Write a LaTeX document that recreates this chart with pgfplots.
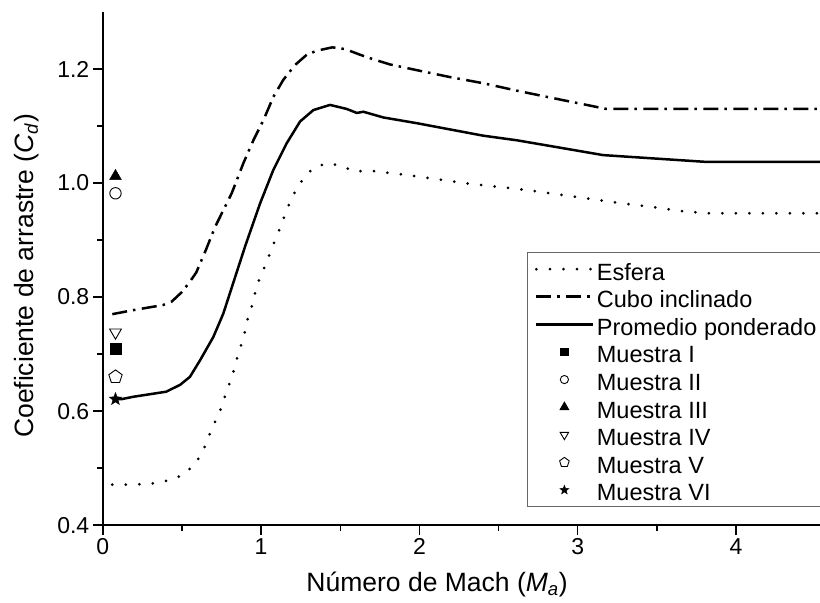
\documentclass[border=0pt]{standalone}
\usepackage{fontspec}
\setmainfont{Liberation Sans}
\usepackage{pgfplots}
\pgfplotsset{compat=1.18}
\usetikzlibrary{plotmarks,calc}

% filled five-pointed star
\pgfdeclareplotmark{fstar}{%
  \pgfpathmoveto{\pgfqpointpolar{90}{\pgfplotmarksize}}%
  \pgfpathlineto{\pgfqpointpolar{126}{0.42\pgfplotmarksize}}%
  \pgfpathlineto{\pgfqpointpolar{162}{\pgfplotmarksize}}%
  \pgfpathlineto{\pgfqpointpolar{198}{0.42\pgfplotmarksize}}%
  \pgfpathlineto{\pgfqpointpolar{234}{\pgfplotmarksize}}%
  \pgfpathlineto{\pgfqpointpolar{270}{0.42\pgfplotmarksize}}%
  \pgfpathlineto{\pgfqpointpolar{306}{\pgfplotmarksize}}%
  \pgfpathlineto{\pgfqpointpolar{342}{0.42\pgfplotmarksize}}%
  \pgfpathlineto{\pgfqpointpolar{18}{\pgfplotmarksize}}%
  \pgfpathlineto{\pgfqpointpolar{54}{0.42\pgfplotmarksize}}%
  \pgfpathclose
  \pgfusepathqfillstroke
}

\begin{document}
\begin{tikzpicture}
\begin{axis}[
    scale only axis,
    width=717pt, height=513pt,
    xmin=0, xmax=4.53,
    ymin=0.4, ymax=1.3,
    axis lines=left,
    axis line style={-, line width=1.4pt},
    xtick={0,1,2,3,4},
    ytick={0.4,0.6,0.8,1.0,1.2},
    minor x tick num=1,
    minor y tick num=1,
    tick align=outside,
    major tick length=10pt,
    minor tick length=5.5pt,
    every tick/.style={black, line width=1.4pt},
    /pgf/number format/assume math mode=true,
    yticklabel style={/pgf/number format/fixed, /pgf/number format/fixed zerofill, /pgf/number format/precision=1},
    tick label style={font=\fontsize{23}{27}\selectfont},
    label style={font=\fontsize{26.5}{31}\selectfont},
    xlabel={Número de Mach (\textit{M}\textsubscript{\textit{a}})},
    ylabel={Coeficiente de arrastre (\textit{C}\textsubscript{\textit{d}})},
    xlabel style={at={(rel axis cs:0.466,-0.130)}, anchor=base},
    ylabel style={at={(rel axis cs:-0.0973,0.4855)}, anchor=base},
    legend image code/.code={\draw[mark repeat=2,mark phase=2,#1,/tikz/every mark/.append style={scale=0.72}] plot coordinates {(0pt,0pt) (28pt,0pt) (57pt,0pt)};},
    legend style={
        at={(rel axis cs:0.592,0.532)}, anchor=north west,
        draw=gray!80!black, line width=1pt,
        font=\fontsize{23.5}{28}\selectfont,
        inner xsep=7pt, inner ysep=3.5pt,
        row sep=1.6pt,
        nodes={inner xsep=2pt, inner ysep=2pt, text height=22pt, text depth=0pt},
        cells={anchor=west},
    },
]

\addplot[black, line width=3pt, line cap=round, dash pattern=on 0pt off 13.5pt]
    coordinates {
    (0.06,0.471)(0.2,0.471)(0.35,0.474)(0.42,0.479)(0.51,0.488)(0.59,0.51)(0.64,0.535)(0.68,0.563)(0.72,0.588)(0.75,0.607)(0.78,0.633)(0.82,0.663)(0.84,0.686)(0.87,0.712)(0.90,0.742)(0.92,0.767)(0.95,0.791)(0.97,0.819)(1.0,0.838)(1.06,0.879)(1.094,0.904)(1.13,0.928)(1.162,0.953)(1.2,0.978)(1.252,1.002)(1.323,1.025)(1.414,1.035)(1.509,1.03)(1.59,1.02)(1.68,1.022)(1.77,1.019)(1.86,1.016)(1.95,1.013)(2.13,1.006)(2.31,0.999)(2.67,0.988)(2.93,0.978)(3.11,0.971)(3.29,0.964)(3.47,0.958)(3.65,0.951)(3.815,0.947)(4.53,0.947)
    };
    \addlegendentry{Esfera}

\addplot[black, line width=2.5pt, dash pattern=on 15pt off 6pt on 2.5pt off 6.5pt]
    coordinates {
    (0.06,0.770)(0.19,0.777)(0.38,0.786)(0.435,0.792)(0.5,0.809)(0.55,0.827)(0.59,0.843)(0.65,0.882)(0.709,0.923)(0.814,0.982)(0.888,1.035)(0.951,1.075)(1.014,1.11)(1.077,1.151)(1.14,1.181)(1.214,1.207)(1.288,1.225)(1.35,1.232)(1.45,1.238)(1.53,1.235)(1.625,1.225)(1.709,1.217)(1.814,1.208)(1.983,1.198)(2.19,1.186)(2.404,1.175)(2.615,1.162)(2.825,1.15)(3.18,1.13)(4.53,1.13)
    };
    \addlegendentry{Cubo inclinado}

\addplot[black, line width=2.5pt]
    coordinates {
    (0.07,0.621)(0.12,0.621)(0.19,0.625)(0.40,0.634)(0.488,0.646)(0.55,0.66)(0.614,0.689)(0.698,0.73)(0.761,0.771)(0.824,0.825)(0.90,0.89)(0.993,0.964)(1.077,1.023)(1.162,1.07)(1.246,1.108)(1.33,1.128)(1.435,1.137)(1.54,1.13)(1.604,1.123)(1.646,1.125)(1.772,1.115)(1.983,1.105)(2.193,1.094)(2.404,1.083)(2.615,1.075)(2.825,1.065)(3.16,1.049)(3.815,1.037)(4.53,1.037)
    };
    \addlegendentry{Promedio ponderado}

\addplot[only marks, mark=square*, mark size=5.5pt, black] coordinates {(0.08,0.71)};
    \addlegendentry{Muestra I}
\addplot[only marks, mark=o, mark size=5.7pt, black, mark options={fill=white, line width=0.9pt}] coordinates {(0.08,0.982)};
    \addlegendentry{Muestra II}
\addplot[only marks, mark=triangle*, mark size=6.8pt, black] coordinates {(0.08,1.012)};
    \addlegendentry{Muestra III}
\addplot[only marks, mark=triangle, mark size=6.8pt, black, mark options={rotate=180, fill=white, line width=0.9pt}] coordinates {(0.08,0.738)};
    \addlegendentry{Muestra IV}
\addplot[only marks, mark=pentagon, mark size=7pt, black, mark options={fill=white, line width=0.9pt}] coordinates {(0.08,0.66)};
    \addlegendentry{Muestra V}
\addplot[only marks, mark=fstar, mark size=6.5pt, black, mark options={fill=black, line width=0.5pt}] coordinates {(0.08,0.621)};
    \addlegendentry{Muestra VI}

\end{axis}
\pgfresetboundingbox
\path[use as bounding box] ($(current axis.south west)+(-102.8pt,-77pt)$) rectangle ($(current axis.north east)+(0pt,12pt)$);
\end{tikzpicture}
\end{document}
